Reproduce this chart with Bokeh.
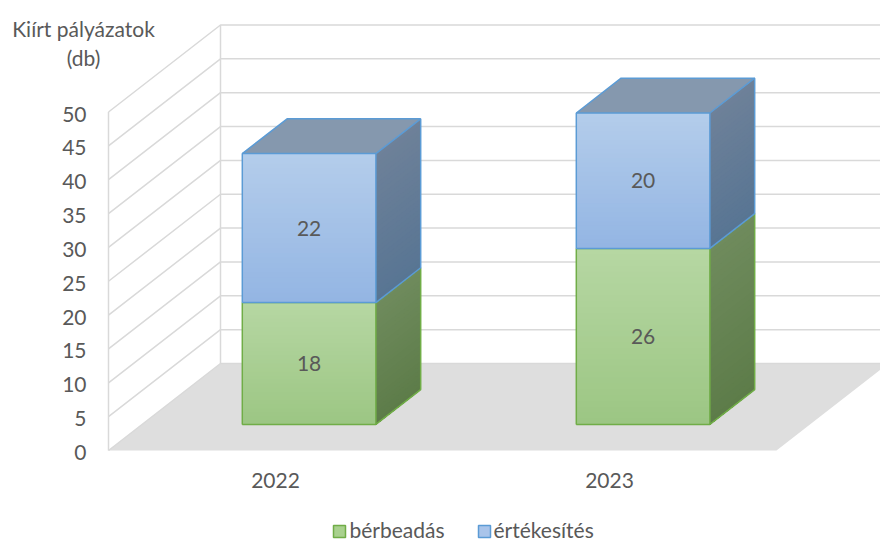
from bokeh.plotting import figure
from bokeh.models import Range1d
from bokeh.embed import file_html
from bokeh.resources import INLINE
from bokeh.core.properties import value

# ---------------- data ----------------
categories = ["2022", "2023"]
berbeadas = [18, 26]
ertekesites = [22, 20]
series_names = ["bérbeadás", "értékesítés"]
y_ticks = [0, 5, 10, 15, 20, 25, 30, 35, 40, 45, 50]
axis_title = ["Kiírt pályázatok", "(db)"]

# ---------------- layout / style ----------------
W, H = 880, 543
X0, Y0 = 108, 450        # front-left floor corner (page px)
SLOT = 334               # width of one category slot at the front plane
DX, DY = 112, 87         # depth offset of the back wall
K = 6.77                 # px per unit
D_FRONT, D_BACK = 0.30, 0.70
BAR_HALF = 0.2
FONT = value("Lato")
FS = "21px"
TXT = "#595959"
GRID = "#d9d9d9"

series = [
    dict(vals=berbeadas, edge="#70ad47",
         front=("#b6d7a3", "#9cc683"), side=("#6f8b5d", "#5d7c49"), top="#7f9a6c",
         legend="#a9d18e"),
    dict(vals=ertekesites, edge="#5b9bd5",
         front=("#b4cdeb", "#93b5e3"), side=("#6e8199", "#587593"), top="#8598ae",
         legend="#a9c4ea"),
]


def P(xs, v, d):
    return X0 + xs * SLOT + d * DX, Y0 - v * K - d * DY


def hx(c):
    c = c.lstrip("#")
    return [int(c[i:i + 2], 16) for i in (0, 2, 4)]


def mix(a, b, t):
    A, B = hx(a), hx(b)
    return "#%02x%02x%02x" % tuple(round(A[i] + (B[i] - A[i]) * t) for i in range(3))


p = figure(width=W, height=H, output_backend="svg", toolbar_location=None,
           x_range=Range1d(0, W), y_range=Range1d(H, 0),
           min_border=0, outline_line_color=None)
p.axis.visible = False
p.grid.visible = False
p.background_fill_color = "white"

ymax = y_ticks[-1]
ncat = len(categories)

# floor
fx, fy = zip(P(0, 0, 0), P(ncat, 0, 0), P(ncat, 0, 1), P(0, 0, 1))
p.patch(list(fx), list(fy), fill_color="#dedede", line_color=None)

# walls gridlines
xs_l, ys_l = [], []
for v in y_ticks:
    a, b, c = P(0, v, 0), P(0, v, 1), P(ncat, v, 1)
    xs_l.append([a[0], b[0], c[0]])
    ys_l.append([a[1], b[1], c[1]])
for d in (0, 1):
    a, b = P(0, 0, d), P(0, ymax, d)
    xs_l.append([a[0], b[0]])
    ys_l.append([a[1], b[1]])
p.multi_line(xs_l, ys_l, line_color=GRID, line_width=1.5)

# bars
N = 30
for i in range(ncat):
    xl, xr = i + 0.5 - BAR_HALF, i + 0.5 + BAR_HALF
    base = 0
    for si, s in enumerate(series):
        v0, v1 = base, base + s["vals"][i]
        base = v1
        is_top = si == len(series) - 1
        # side face gradient (each strip reaches down to the segment bottom; later strips overwrite)
        sx, sy, sc = [], [], []
        for k in range(N):
            va = v1 - (v1 - v0) * k / N
            pts = [P(xr, va, D_FRONT), P(xr, va, D_BACK), P(xr, v0, D_BACK), P(xr, v0, D_FRONT)]
            sx.append([q[0] for q in pts])
            sy.append([q[1] for q in pts])
            sc.append(mix(s["side"][0], s["side"][1], (k + 0.5) / N))
        p.patches(sx, sy, fill_color=sc, line_color=None)
        # front face gradient
        lefts, rights, tops, bottoms, fc = [], [], [], [], []
        for k in range(N):
            va = v1 - (v1 - v0) * k / N
            a, b = P(xl, va, D_FRONT), P(xr, v0, D_FRONT)
            lefts.append(a[0]); rights.append(b[0]); tops.append(a[1]); bottoms.append(b[1])
            fc.append(mix(s["front"][0], s["front"][1], (k + 0.5) / N))
        p.quad(left=lefts, right=rights, top=tops, bottom=bottoms,
               fill_color=fc, line_color=None)
        # top face (visible only for the top segment)
        if is_top:
            pts = [P(xl, v1, D_FRONT), P(xr, v1, D_FRONT), P(xr, v1, D_BACK), P(xl, v1, D_BACK)]
            p.patch([q[0] for q in pts], [q[1] for q in pts], fill_color=s["top"], line_color=None)
        # outlines
        fpts = [P(xl, v0, D_FRONT), P(xr, v0, D_FRONT), P(xr, v1, D_FRONT), P(xl, v1, D_FRONT), P(xl, v0, D_FRONT)]
        spts = [P(xr, v0, D_FRONT), P(xr, v0, D_BACK), P(xr, v1, D_BACK), P(xr, v1, D_FRONT)]
        lx = [[q[0] for q in fpts], [q[0] for q in spts]]
        ly = [[q[1] for q in fpts], [q[1] for q in spts]]
        if is_top:
            tpts = [P(xl, v1, D_FRONT), P(xl, v1, D_BACK), P(xr, v1, D_BACK)]
            lx.append([q[0] for q in tpts]); ly.append([q[1] for q in tpts])
        p.multi_line(lx, ly, line_color=s["edge"], line_width=1.5)
        # data label
        cx, cy = P(i + 0.5, (v0 + v1) / 2, D_FRONT)
        p.text([cx], [cy], text=[str(s["vals"][i])], text_font=FONT, text_font_size=FS,
               text_color=TXT, text_align="center", text_baseline="middle")

# y tick labels
tx = [X0 - 22] * len(y_ticks)
ty = [P(0, v, 0)[1] + 2 for v in y_ticks]
p.text(tx, ty, text=[str(v) for v in y_ticks], text_font=FONT, text_font_size=FS,
       text_color=TXT, text_align="right", text_baseline="middle")

# axis title
p.text([X0 - 25, X0 - 25], [28, 57], text=axis_title, text_font=FONT, text_font_size=FS,
       text_color=TXT, text_align="center", text_baseline="middle")

# category labels
cxs = [P(i + 0.5, 0, 0)[0] for i in range(ncat)]
p.text(cxs, [Y0 + 30] * ncat, text=categories, text_font=FONT, text_font_size=FS,
       text_color=TXT, text_align="center", text_baseline="middle")

# legend
LY = 529
lg_sq_x = [339, 484]
lg_tx = [349, 493]
p.rect(lg_sq_x, [LY + 2] * 2, width=12, height=12,
       fill_color=[s["legend"] for s in series], line_color=[s["edge"] for s in series], line_width=1.5)
p.text(lg_tx, [LY] * 2, text=series_names, text_font=FONT, text_font_size=FS,
       text_color=TXT, text_align="left", text_baseline="middle")

open("out.html", "w").write(file_html(p, INLINE))
